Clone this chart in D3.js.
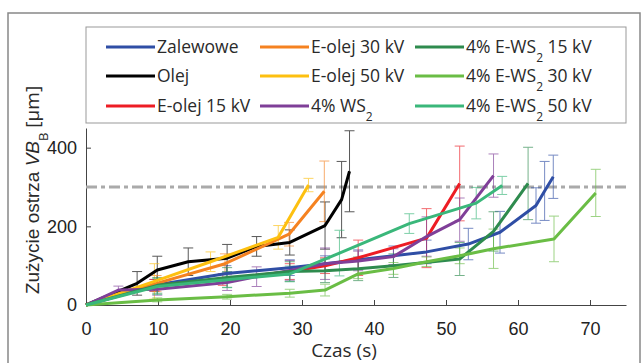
<!DOCTYPE html>
<html>
<head>
<meta charset="utf-8">
<script src="https://cdn.jsdelivr.net/npm/d3@7"></script>
<style>
  body { margin: 0; background: #fff; }
  svg { display: block; }
  .axis text { font-family: "Liberation Sans", Arial, sans-serif; font-size: 18px; fill: #222; }
  .axis path, .axis line { stroke: #444; stroke-width: 1; }
  .leg { font-family: "Open Sans", sans-serif; font-size: 17.5px; fill: #2a2a2a; }
</style>
</head>
<body>
<svg id="chart" width="641" height="363"></svg>
<script>
// series, in legend order (column by column)
const names = ['Zalewowe', 'Olej', 'E-olej 15 kV', 'E-olej 30 kV', 'E-olej 50 kV', '4% WS2',
               '4% E-WS2 15 kV', '4% E-WS2 30 kV', '4% E-WS2 50 kV'];
const colors = ['#2f4ea5', '#000000', '#ed1c24', '#f58220', '#fdc010', '#7f3f98',
                '#2e8b4e', '#6abd45', '#3ab77a'];

const zalX = [0, 9.5, 19.5, 28.3, 33.2, 37.8, 42.7, 47.3, 53.1, 57.5, 62.5, 63.7, 64.9];
const zalY = [0, 50, 80, 95, 105, 115, 125, 135, 155, 185, 253, 290, 326];
const zalE = [0, 15, 20, 20, 20, 25, 25, 30, 40, 53, 45, 75, 55];

const olejX = [0, 7.1, 9.9, 14.2, 19.6, 23.7, 28.3, 33.2, 35.5, 36.6];
const olejY = [0, 55, 89, 110, 119, 149, 159, 202, 268, 340];
const olejE = [0, 30, 35, 35, 35, 25, 32, 60, 97, 103];

const eo15X = [0, 9.5, 19, 28.3, 33.2, 37.8, 47.3, 51.9];
const eo15Y = [0, 50, 65, 85, 100, 120, 170, 309];
const eo15E = [0, 15, 15, 20, 20, 45, 75, 95];

const eo30X = [0, 9.8, 19.3, 28.2, 33.1];
const eo30Y = [0, 55, 105, 180, 289];
const eo30E = [0, 20, 25, 30, 77];

const eo50X = [0, 9.5, 17.3, 26.7, 30.9];
const eo50Y = [0, 60, 110, 172, 305];
const eo50E = [0, 45, 25, 30, 17];

const wsX = [0, 4.5, 9.9, 19.6, 23.7, 28.3, 33.2, 37.8, 42.7, 47.3, 51.9, 56.6];
const wsY = [0, 38, 40, 57, 72, 88, 105, 112, 123, 174, 217, 329];
const wsE = [0, 10, 15, 20, 25, 25, 40, 25, 20, 50, 55, 55];

const ews15X = [0, 9.9, 19.6, 28.3, 33.2, 37.8, 42.7, 51.9, 56.6, 61.4];
const ews15Y = [0, 50, 70, 85, 87, 92, 100, 117, 187, 309];
const ews15E = [0, 20, 25, 25, 30, 30, 30, 42, 50, 92];

const ews30X = [0, 9.9, 19.6, 28.3, 33.2, 37.8, 42.7, 47.3, 51.9, 56.6, 65, 70.8];
const ews30Y = [0, 13, 21, 30, 38, 79, 93, 110, 125, 143, 168, 285];
const ews30E = [0, 5, 6, 10, 15, 12, 15, 12, 20, 50, 58, 60];

const ews50X = [0, 9.9, 19.6, 28.3, 35.2, 44.9, 54.2, 57.8];
const ews50Y = [0, 47, 64, 79, 132, 207, 259, 304];
const ews50E = [0, 20, 20, 20, 58, 25, 40, 23];

const xTicks = [0, 10, 20, 30, 40, 50, 60, 70];
const yTicks = [0, 200, 400];
const limitVB = 300;

const raw = [[zalX, zalY, zalE], [olejX, olejY, olejE], [eo15X, eo15Y, eo15E],
             [eo30X, eo30Y, eo30E], [eo50X, eo50Y, eo50E], [wsX, wsY, wsE],
             [ews15X, ews15Y, ews15E], [ews30X, ews30Y, ews30E], [ews50X, ews50Y, ews50E]];
const series = raw.map((r, i) => ({
    name: names[i], color: colors[i],
    pts: r[0].map((x, j) => ({ x: x, y: r[1][j], e: r[2][j] }))
}));

const svg = d3.select('#chart');

// figure frame
svg.append('rect').attr('x', 8).attr('y', 13).attr('width', 632).attr('height', 360)
    .attr('fill', 'none').attr('stroke', '#888').attr('stroke-width', 1.5);

const x = d3.scaleLinear().domain([0, 75]).range([86, 626]);
const y = d3.scaleLinear().domain([0, 450]).range([305, 128]);

svg.append('g').attr('class', 'axis').attr('transform', 'translate(0,305)')
    .call(d3.axisBottom(x).tickValues(xTicks).tickSizeInner(-5).tickSizeOuter(0).tickPadding(17));
svg.append('g').attr('class', 'axis').attr('transform', 'translate(86,0)')
    .call(d3.axisLeft(y).tickValues(yTicks).tickSizeInner(-5).tickSizeOuter(0).tickPadding(9));

// tool wear limit
svg.append('line').attr('x1', x(0)).attr('x2', x(75)).attr('y1', y(limitVB)).attr('y2', y(limitVB))
    .attr('stroke', '#aaa').attr('stroke-width', 3).attr('stroke-dasharray', '11,4,4,4');

// error bars
const eb = svg.append('g').attr('class', 'errbars');
series.forEach(s => {
    const g = eb.append('g').attr('stroke', s.color).attr('stroke-width', 1).attr('opacity', 0.65);
    s.pts.filter(p => p.e > 0).forEach(p => {
        const cx = x(p.x), t = y(p.y + p.e), b = y(p.y - p.e);
        g.append('line').attr('x1', cx).attr('x2', cx).attr('y1', t).attr('y2', b);
        g.append('line').attr('x1', cx - 5).attr('x2', cx + 5).attr('y1', t).attr('y2', t);
        g.append('line').attr('x1', cx - 5).attr('x2', cx + 5).attr('y1', b).attr('y2', b);
    });
});

const line = d3.line().x(d => x(d.x)).y(d => y(d.y));
svg.append('g').selectAll('path').data(series).enter().append('path')
    .attr('d', d => line(d.pts))
    .attr('fill', 'none').attr('stroke', d => d.color)
    .attr('stroke-width', 3).attr('stroke-linejoin', 'round');

// axis titles
svg.append('text').attr('x', x(37.5) - 12).attr('y', 357).attr('text-anchor', 'middle')
    .attr('class', 'leg').style('font-size', '19px').text('Czas (s)');

const yl = svg.append('text').attr('transform', 'translate(39,190) rotate(-90)')
    .attr('text-anchor', 'middle').attr('class', 'leg').style('font-size', '19px');
yl.append('tspan').style('font-family', '"Liberation Sans", Arial, sans-serif').text('Zużycie ostrza ');
yl.append('tspan').style('font-style', 'italic').style('font-family', '"Liberation Sans", Arial, sans-serif').text('VB');
yl.append('tspan').attr('baseline-shift', 'sub').style('font-size', '13px').text('B');
yl.append('tspan').text(' [µm]');

// legend
svg.append('rect').attr('x', 86).attr('y', 27).attr('width', 540).attr('height', 96)
    .attr('fill', '#fff').attr('stroke', '#999').attr('stroke-width', 1);
const colX = [106, 260, 415];
const rowY = [47, 76, 106];
series.forEach((s, i) => {
    const cx = colX[Math.floor(i / 3)], cy = rowY[i % 3];
    svg.append('line').attr('x1', cx).attr('x2', cx + 49).attr('y1', cy).attr('y2', cy)
        .attr('stroke', s.color).attr('stroke-width', 3);
    const t = svg.append('text').attr('class', 'leg').attr('x', cx + 51).attr('y', cy + 6);
    const m = s.name.match(/^(.*WS)2(.*)$/);
    if (m) {
        t.append('tspan').text(m[1]);
        t.append('tspan').attr('baseline-shift', 'sub').style('font-size', '12px').text('2');
        t.append('tspan').text(m[2]);
    } else {
        t.text(s.name);
    }
});
</script>
</body>
</html>
